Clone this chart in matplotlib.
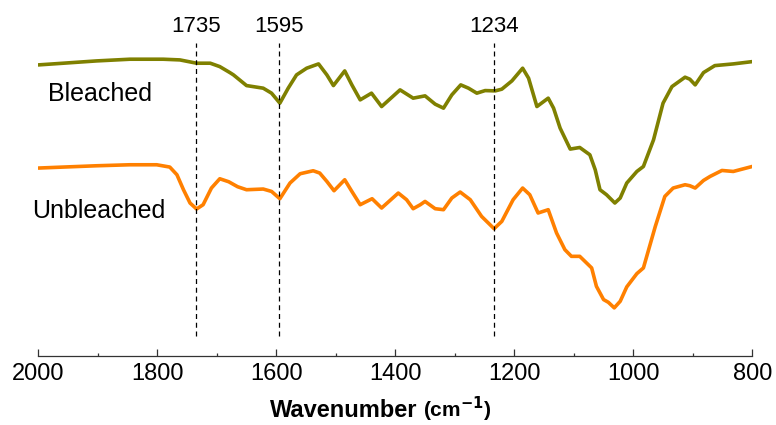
import matplotlib
matplotlib.use("Agg")
import matplotlib.pyplot as plt
from matplotlib.ticker import MultipleLocator

plt.rcParams['font.family'] = ['Liberation Sans', 'DejaVu Sans']

# Wavenumber (cm-1) and relative transmittance (arbitrary units, offset traces)
bleached_wn = [2000, 1958, 1902, 1846, 1790, 1762, 1745, 1734, 1711, 1695, 1678, 1672,
               1650, 1622, 1608, 1594, 1580, 1566, 1549, 1529, 1515, 1504, 1485, 1473,
               1459, 1440, 1423, 1392, 1370, 1350, 1333, 1319, 1305, 1290, 1277, 1263,
               1249, 1232, 1221, 1204, 1186, 1176, 1162, 1143, 1134, 1123, 1106, 1090,
               1073, 1064, 1056, 1045, 1031, 1022, 1011, 994, 983, 966, 950, 935, 913,
               905, 896, 882, 863, 832, 800]
bleached_t = [291, 292.7, 295, 296.7, 296.7, 296, 294, 292.7, 292.7, 289.3, 283.3, 281,
              270.3, 267.7, 262.7, 252.7, 267.7, 281, 287.7, 292, 281, 270.3, 285, 271,
              256, 262.7, 249.3, 266, 257.7, 260, 251.7, 247.7, 261, 271, 267.7, 262.7,
              265.3, 265, 266.7, 275, 287.7, 277.7, 249.3, 257.7, 247.7, 227.7, 206.7, 208.3,
              201, 186, 166, 161, 152.7, 157.7, 172.7, 184.3, 189.3, 216, 252.7, 269.3, 278.7,
              276.7, 271, 283.3, 290.3, 292, 294.3]

unbleached_wn = [2000, 1958, 1902, 1846, 1801, 1779, 1767, 1756, 1745, 1734, 1723, 1709,
                 1695, 1680, 1665, 1650, 1622, 1608, 1594, 1577, 1560, 1538, 1527, 1515,
                 1503, 1485, 1473, 1459, 1439, 1423, 1395, 1381, 1370, 1358, 1350, 1333,
                 1319, 1305, 1291, 1274, 1255, 1234, 1221, 1202, 1186, 1174, 1160, 1143,
                 1129, 1115, 1104, 1090, 1070, 1062, 1050, 1042, 1032, 1022, 1011, 994,
                 983, 963, 947, 933, 913, 905, 896, 882, 871, 851, 832, 800]
unbleached_t = [187.7, 188.7, 190, 191, 191, 188.7, 181, 166, 152.7, 146.7, 151, 167.7,
                177, 174, 169, 166, 166.7, 164.3, 157, 172.7, 182, 185, 182.7, 174.3,
                165, 176, 164.3, 151, 157, 147.7, 162.7, 156, 147, 151, 154.3, 147,
                146, 157.7, 163.7, 156, 139.3, 127, 134.3, 156, 167.7, 161, 142.7, 146,
                122.7, 106, 99.3, 99.3, 87.7, 69.3, 56, 53.3, 47.7, 54.3, 68.7, 82,
                87.7, 129.3, 159.3, 167.7, 171, 170, 167.7, 175.3, 179.3, 185.3, 184.3, 189.3]

peak_wn = [1735, 1595, 1234]
peak_labels = ["1735", "1595", "1234"]
x_ticks = [2000, 1800, 1600, 1400, 1200, 1000, 800]

fig = plt.figure(figsize=(7.76, 4.25), dpi=100)
ax = fig.add_axes([38.3 / 776, 1 - 355.5 / 425, (752.3 - 38.3) / 776, 355.5 / 425])

ax.plot(bleached_wn, bleached_t, color='#7f8000', lw=2.6, solid_capstyle='round',
        solid_joinstyle='round')
ax.plot(unbleached_wn, unbleached_t, color='#ff8000', lw=2.6, solid_capstyle='round',
        solid_joinstyle='round')

ax.vlines(peak_wn, 20, 313, colors='black', linestyles=(0, (4, 3)), lw=0.9)
for wn, lab in zip(peak_wn, peak_labels):
    ax.text(wn, 324, lab, ha='center', va='baseline', fontsize=16)

ax.text(1984, 255, "Bleached", ha='left', va='baseline', fontsize=18)
ax.text(2010, 138, "Unbleached", ha='left', va='baseline', fontsize=18, clip_on=False)

ax.set_xlim(2000, 800)
ax.set_ylim(0, 356)
ax.set_xticks(x_ticks)
ax.set_xticklabels([str(t) for t in x_ticks])
ax.xaxis.set_minor_locator(MultipleLocator(100))
ax.tick_params(axis='x', which='major', direction='in', length=5, width=0.9,
               labelsize=17, pad=5.5, color='#333333')
ax.tick_params(axis='x', which='minor', direction='in', length=2.5, width=0.9,
               color='#333333')
ax.set_yticks([])
for s in ['top', 'left', 'right']:
    ax.spines[s].set_visible(False)
ax.spines['bottom'].set_linewidth(0.9)
ax.spines['bottom'].set_color('#333333')

fig.text(270 / 776, 1 - 416.7 / 425, "Wavenumber", fontsize=17, fontweight='bold',
         ha='left', va='baseline')
fig.text(423 / 776, 1 - 416.7 / 425, r"(cm$^{\mathbf{-1}}$)", fontsize=15,
         fontweight='bold', ha='left', va='baseline')

fig.savefig("out.png", dpi=100)
